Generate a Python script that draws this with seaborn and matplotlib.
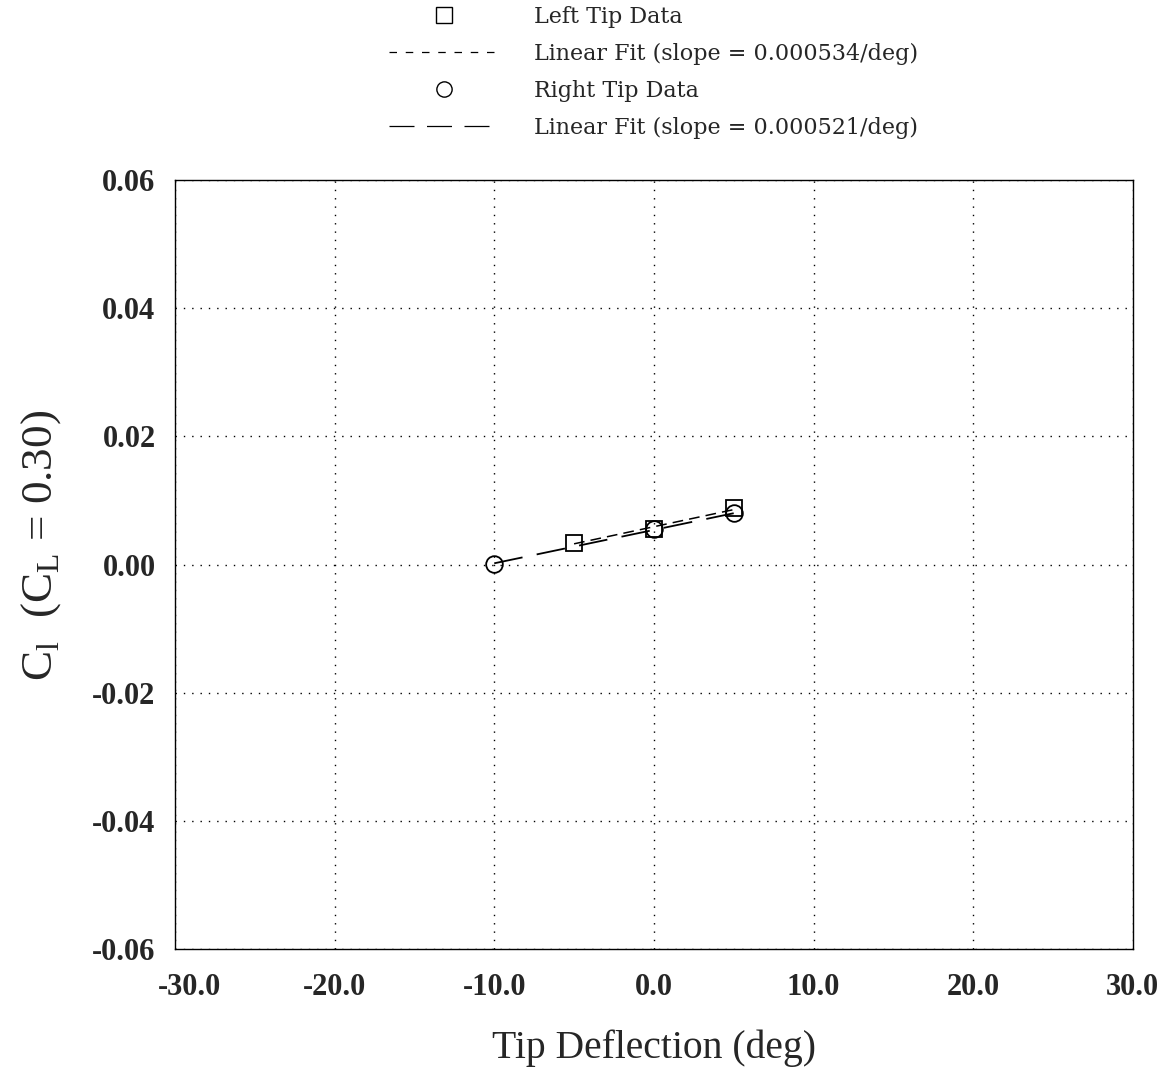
import numpy as np
import pandas as pd
import matplotlib
matplotlib.use('Agg')
import matplotlib.pyplot as plt
import matplotlib.transforms as mtransforms
from matplotlib import font_manager as fm
import seaborn as sns
from matplotlib.lines import Line2D

# data
left_defl = [-5.0, 0.0, 5.0]
left_cl = [0.0033, 0.0056, 0.0088]
right_defl = [-10.0, 0.0, 5.0]
right_cl = [0.0001, 0.0055, 0.0080]
left_slope = 0.000534
right_slope = 0.000521

x_ticks = [-30, -20, -10, 0, 10, 20, 30]
y_ticks = [-0.06, -0.04, -0.02, 0.00, 0.02, 0.04, 0.06]

sns.set_theme(style='white')
plt.rcParams['font.family'] = ['Liberation Serif', 'DejaVu Serif']
plt.rcParams['mathtext.fontset'] = 'custom'
plt.rcParams['mathtext.rm'] = 'Liberation Serif'

# pick the bold Liberation Serif file directly
bold_path = None
for f in fm.fontManager.ttflist:
    if f.name == 'Liberation Serif' and f.weight == 700 and f.style == 'normal':
        bold_path = f.fname
        break
if bold_path:
    tick_fp = fm.FontProperties(fname=bold_path, size=22)
else:
    tick_fp = fm.FontProperties(family='Liberation Serif', weight='bold', size=22)

left = pd.DataFrame({'defl': left_defl, 'cl': left_cl})
right = pd.DataFrame({'defl': right_defl, 'cl': right_cl})

# linear fits through the data, drawn over the data range
lb = np.mean(left_cl) - left_slope * np.mean(left_defl)
rb = np.mean(right_cl) - right_slope * np.mean(right_defl)
left_fit = pd.DataFrame({'defl': [min(left_defl), max(left_defl)]})
left_fit['cl'] = lb + left_slope * left_fit['defl']
right_fit = pd.DataFrame({'defl': [min(right_defl), max(right_defl)]})
right_fit['cl'] = rb + right_slope * right_fit['defl']

short_dash = (0, (7, 4))
long_dash = (0, (16, 8))

fig = plt.figure(figsize=(11.71, 10.71), dpi=100)
ax = fig.add_axes([0.1494, 0.1139, 0.818, 0.718])

sns.lineplot(data=right_fit, x='defl', y='cl', ax=ax, color='black', lw=1.3,
             dashes=False, linestyle=long_dash)
sns.lineplot(data=left_fit, x='defl', y='cl', ax=ax, color='black', lw=1.1,
             dashes=False, linestyle=short_dash)
ax.plot(left['defl'], left['cl'], ls='none', marker='s', ms=12, mfc='none', mec='black', mew=1.3)
ax.plot(right['defl'], right['cl'], ls='none', marker='o', ms=12, mfc='none', mec='black', mew=1.3)

ax.set_xlim(-30, 30)
ax.set_ylim(-0.06, 0.06)
ax.set_xticks(x_ticks)
ax.set_xticklabels([f'{v:.1f}' for v in x_ticks])
ax.set_yticks(y_ticks)
ax.set_yticklabels([f'{v:.2f}' for v in y_ticks])
for lab in ax.get_xticklabels() + ax.get_yticklabels():
    lab.set_fontproperties(tick_fp)
ax.tick_params(axis='x', length=0, pad=17)
ax.tick_params(axis='y', length=0, pad=14)
# first x label sits a little to the right in the original
first = ax.get_xticklabels()[0]
first.set_transform(first.get_transform() + mtransforms.ScaledTranslation(0.15, 0, fig.dpi_scale_trans))
ax.grid(True, color='black', linestyle=(0, (1, 5)), linewidth=1)
for s in ax.spines.values():
    s.set_color('black')
    s.set_linewidth(1)

ax.set_xlabel('Tip Deflection (deg)', fontsize=28.5, labelpad=20)
ax.set_ylabel(r'C$_{\rm l}$  (C$_{\rm L}$ = 0.30)', fontsize=32.5)
ax.yaxis.set_label_coords(-0.117, 0.525)

handles = [
    Line2D([], [], ls='none', marker='s', ms=11, mfc='none', mec='black', mew=1),
    Line2D([], [], color='black', lw=0.9, linestyle=(0, (6, 7))),
    Line2D([], [], ls='none', marker='o', ms=11, mfc='none', mec='black', mew=1),
    Line2D([], [], color='black', lw=0.9, linestyle=(0, (20, 10))),
]
labels = ['Left Tip Data',
          'Linear Fit (slope = 0.000534/deg)',
          'Right Tip Data',
          'Linear Fit (slope = 0.000521/deg)']
ax.legend(handles, labels, loc='lower center', bbox_to_anchor=(0.5, 1.033),
          frameon=False, prop={'family': 'DejaVu Serif', 'size': 16},
          handlelength=4.95, handletextpad=1.58, labelspacing=0.68, borderpad=0.2)

fig.savefig('out.png', dpi=100)
